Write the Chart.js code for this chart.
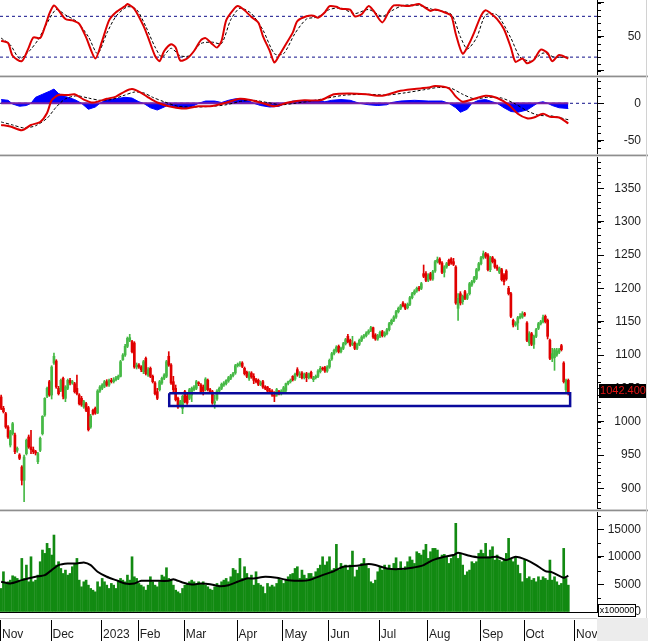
<!DOCTYPE html>
<html><head><meta charset="utf-8">
<script src="https://cdn.jsdelivr.net/npm/chart.js@4.4.0/dist/chart.umd.min.js"></script>
<style>
html,body{margin:0;padding:0;background:#fff;}
#wrap{position:relative;width:648px;height:641px;overflow:hidden;background:#fff;}
canvas.pane{position:absolute;left:0;}
.sep{position:absolute;left:0;width:648px;height:3px;background:linear-gradient(#cfcfcf 0,#cfcfcf 1px,#8e8e8e 1px,#8e8e8e 2px,#dedede 2px,#dedede 3px);}
.rb{position:absolute;left:646px;width:1px;background:#d2d2d2;}
</style></head><body>
<div id="wrap">
<canvas id="cStoch" class="pane" width="648" height="75" style="top:0;width:648px;height:75px"></canvas>
<div class="sep" style="top:75px"></div>
<canvas id="cMacd" class="pane" width="648" height="76" style="top:78px;width:648px;height:76px"></canvas>
<div class="sep" style="top:154px"></div>
<canvas id="cPrice" class="pane" width="648" height="352" style="top:157px;width:648px;height:352px"></canvas>
<div class="sep" style="top:509px"></div>
<canvas id="cVol" class="pane" width="648" height="129" style="top:512px;width:648px;height:129px"></canvas>
<div class="rb" style="top:0;height:618px"></div>
</div>
<script>
// ---------- DATA ----------
const monthTicks = [-0.5, 21.5, 43.5, 59.5, 79.5, 102.5, 122.5, 142.5, 164.5, 185.5, 208.5, 227.5, 249.5];
const monthLabels = ['Nov','Dec','2023','Feb','Mar','Apr','May','Jun','Jul','Aug','Sep','Oct','Nov'];

const opens = [1037,1020,1012,992,965,982,980,957,950,932,
912,952,977,962,958,955,940,957,982,1010,
1038,1060,1040,1088,1091,1050,1047,1065,1035,1050,
1062,1058,1057,1050,1040,1035,1022,1027,1021,992,
1017,1020,1013,1046,1050,1053,1060,1055,1062,1060,
1063,1065,1068,1093,1100,1113,1122,1120,1118,1082,
1085,1082,1075,1095,1070,1080,1068,1058,1045,1048,
1058,1065,1068,1098,1085,1060,1050,1035,1025,1020,
1045,1038,1035,1040,1048,1050,1058,1055,1052,1048,
1062,1048,1045,1028,1034,1046,1050,1055,1057,1061,
1065,1069,1073,1084,1086,1088,1080,1074,1065,1073,
1068,1063,1062,1056,1060,1052,1052,1046,1046,1040,
1040,1045,1042,1045,1047,1057,1060,1068,1064,1078,
1070,1073,1066,1072,1066,1074,1063,1066,1068,1075,
1080,1081,1076,1082,1094,1102,1106,1113,1105,1110,
1117,1128,1122,1116,1118,1110,1116,1122,1127,1129,
1133,1137,1141,1130,1124,1128,1135,1129,1132,1138,
1147,1152,1157,1165,1170,1178,1175,1171,1176,1186,
1192,1196,1200,1200,1222,1222,1212,1222,1214,1226,
1240,1244,1238,1224,1232,1242,1244,1240,1232,1170,
1192,1180,1195,1185,1192,1205,1210,1215,1228,1237,
1246,1252,1250,1228,1246,1242,1232,1224,1228,1220,
1226,1200,1192,1152,1145,1148,1156,1157,1162,1148,
1118,1132,1116,1128,1140,1147,1150,1158,1152,1122,
1095,1096,1100,1104,1114,1088,1048,1062];
const highs = [1040,1023,1014,994,987,999,983,962,952,934,
950,974,980,987,962,957,954,977,1009,1036,
1052,1062,1084,1103,1093,1053,1064,1067,1054,1064,
1065,1062,1059,1070,1042,1038,1032,1029,1023,1011,
1019,1022,1048,1054,1057,1062,1063,1064,1065,1066,
1068,1070,1092,1102,1116,1127,1131,1122,1120,1088,
1087,1084,1092,1097,1081,1082,1070,1060,1050,1062,
1067,1072,1092,1105,1087,1068,1055,1037,1032,1040,
1047,1041,1050,1052,1054,1062,1060,1057,1055,1066,
1064,1050,1047,1040,1048,1052,1058,1060,1063,1068,
1071,1074,1086,1088,1090,1090,1082,1076,1075,1075,
1072,1065,1064,1061,1062,1054,1053,1050,1048,1045,
1050,1047,1048,1053,1058,1061,1064,1069,1073,1081,
1075,1075,1073,1074,1073,1076,1068,1070,1078,1083,
1082,1083,1084,1094,1104,1109,1114,1115,1112,1119,
1125,1131,1124,1128,1120,1118,1124,1129,1131,1135,
1138,1143,1142,1132,1131,1136,1137,1135,1140,1149,
1154,1159,1167,1172,1176,1180,1177,1178,1188,1194,
1198,1202,1203,1209,1235,1225,1222,1224,1227,1242,
1247,1246,1240,1234,1239,1244,1246,1245,1234,1192,
1195,1190,1197,1192,1209,1212,1218,1230,1239,1248,
1256,1254,1252,1248,1248,1244,1235,1232,1230,1222,
1228,1203,1194,1154,1150,1158,1162,1165,1164,1150,
1135,1134,1130,1140,1149,1152,1160,1160,1154,1124,
1110,1110,1110,1110,1116,1090,1064,1064];
const lows = [1018,1013,990,975,962,980,952,954,943,905,
880,950,960,952,952,950,937,955,980,1008,
1036,1038,1034,1086,1050,1040,1045,1034,1030,1048,
1055,1056,1043,1040,1025,1023,1020,1015,986,990,
1010,1011,1012,1044,1048,1051,1053,1053,1058,1058,
1061,1063,1067,1092,1098,1111,1120,1103,1080,1079,
1080,1075,1072,1070,1068,1066,1058,1040,1033,1046,
1056,1063,1066,1083,1056,1045,1031,1020,1022,1012,
1028,1026,1033,1030,1046,1048,1054,1043,1040,1046,
1046,1042,1026,1020,1032,1044,1048,1053,1055,1059,
1063,1067,1071,1082,1083,1081,1070,1066,1062,1065,
1057,1058,1054,1054,1050,1048,1044,1043,1038,1030,
1038,1040,1040,1043,1045,1055,1058,1061,1062,1068,
1066,1064,1064,1060,1064,1065,1060,1064,1066,1073,
1077,1074,1074,1080,1092,1100,1104,1103,1103,1108,
1115,1118,1113,1114,1108,1108,1114,1120,1125,1127,
1131,1135,1125,1122,1122,1126,1127,1127,1130,1136,
1145,1150,1155,1163,1168,1172,1168,1169,1174,1184,
1190,1194,1196,1198,1216,1210,1210,1212,1212,1224,
1238,1236,1222,1217,1230,1234,1236,1234,1176,1152,
1175,1176,1183,1183,1190,1203,1208,1213,1226,1235,
1244,1245,1226,1225,1238,1230,1227,1222,1211,1205,
1212,1190,1156,1142,1143,1138,1154,1155,1158,1120,
1114,1114,1110,1126,1138,1145,1148,1148,1124,1093,
1090,1077,1098,1102,1106,1058,1044,1040];
const closes = [1020,1015,992,977,985,997,955,960,945,912,
947,972,962,958,955,953,952,975,1008,1035,
1050,1040,1082,1098,1052,1042,1062,1038,1052,1062,
1058,1060,1045,1042,1027,1025,1030,1017,988,1008,
1012,1013,1046,1052,1055,1060,1055,1062,1060,1063,
1066,1068,1090,1100,1113,1125,1126,1105,1082,1085,
1082,1078,1090,1072,1078,1068,1060,1042,1035,1060,
1065,1070,1090,1085,1058,1048,1033,1022,1030,1038,
1030,1028,1048,1050,1052,1060,1057,1045,1046,1064,
1048,1045,1028,1030,1046,1050,1056,1058,1062,1066,
1069,1072,1084,1086,1088,1083,1072,1068,1072,1067,
1062,1060,1056,1058,1052,1050,1046,1045,1040,1038,
1048,1042,1046,1051,1057,1060,1062,1063,1071,1070,
1071,1066,1071,1066,1072,1067,1066,1068,1076,1080,
1079,1076,1082,1092,1102,1107,1112,1105,1110,1117,
1123,1120,1115,1118,1110,1116,1122,1127,1129,1133,
1136,1141,1127,1124,1129,1134,1129,1133,1138,1147,
1152,1157,1165,1170,1174,1174,1170,1176,1186,1192,
1196,1200,1199,1207,1218,1212,1220,1214,1225,1240,
1243,1238,1224,1232,1237,1236,1238,1236,1178,1185,
1178,1188,1185,1190,1207,1210,1216,1228,1237,1246,
1252,1248,1228,1246,1240,1232,1230,1230,1213,1210,
1214,1192,1158,1145,1148,1156,1158,1162,1160,1122,
1132,1116,1128,1138,1147,1150,1156,1150,1128,1095,
1102,1108,1106,1108,1108,1060,1062,1042.4];

const volumes = [4270,7300,5180,5480,5780,6570,6390,6090,5780,9720,
6090,8510,5480,10020,5480,5780,6690,9120,11240,10630,
12450,11540,10330,13960,8510,9120,7900,6990,7600,6690,
6990,8210,8810,9720,5780,4570,5480,5780,4870,4270,
3960,3660,5480,4570,6090,5480,4870,4270,5180,4870,
4270,5480,6090,5780,5480,6690,5780,10020,6390,6090,
5180,4870,4570,3960,4870,6390,5480,4870,4570,5480,
6690,6390,8030,6090,5780,4870,3960,3660,3360,4270,
4870,5180,5480,5780,5480,4870,5480,5180,5480,4870,
4570,4150,3960,4570,5180,4870,5480,5780,6090,5480,
6390,7900,7600,6990,9720,6090,8210,6990,6090,6690,
4870,7300,5180,4870,4570,3360,5180,4570,4870,4570,
5180,6090,5780,5180,5780,6390,6810,6990,
7900,8210,6090,7600,6690,6090,6990,6990,6390,7300,
7900,8510,10020,8510,9120,10020,7600,7900,12270,7600,
8810,8210,8510,7600,8510,11050,6390,7600,8210,8810,
9720,8510,7900,5480,5180,5780,7300,8210,7600,8510,
7900,8510,7600,8810,9840,7900,9120,7600,8210,9120,
10020,9420,8810,10930,10630,10330,11240,12270,9720,10930,
11540,11540,11240,9720,10330,10450,10020,8810,9720,10330,
16090,9720,10450,8510,6690,7300,7600,9120,8810,9120,
10630,11240,10630,12450,10020,11240,11840,9420,10330,9420,
9120,9420,10630,13360,9720,9120,10020,8510,6990,5480,
9420,6090,6390,5780,6090,5480,6390,5780,6390,6090,
5780,9420,5780,6390,5480,4870,5180,11540,6090,4870];

const volMA = [[0,5480],[4,5170],[9,5780],[15,6390],[19,6690],[22,7600],[25,8510],[29,8810],[33,8810],[36,8990],[39,8510],[42,7300],[46,6390],[50,5780],[54,5170],[58,5170],[61,5660],[67,5660],[73,5660],[75,5960],[79,5360],[83,5000],[87,5170],[91,5050],[95,4690],[99,4870],[103,5480],[107,6090],[110,6090],[115,6390],[120,6210],[125,5780],[131,5660],[134,5780],[140,6690],[145,7420],[149,8210],[155,8390],[160,8690],[163,8510],[168,7900],[173,7780],[179,8030],[184,8510],[188,9420],[193,10030],[197,10330],[199,10750],[204,10200],[208,9900],[213,9900],[216,10030],[220,9420],[224,10030],[229,9420],[233,8510],[237,7420],[240,7180],[245,6210],[247,6570]];

const stochK = [[0,44],[3,41],[5,22],[9,14],[12,34],[14,49],[17,48],[19,64],[21,84],[23,96],[25,89],[28,76],[31,74],[34,69],[37,49],[41,18],[44,44],[47,74],[50,86],[54,95],[55,98],[58,91],[62,66],[64,49],[67,22],[69,14],[71,29],[74,39],[76,34],[78,15],[81,18],[84,29],[87,45],[89,48],[92,39],[94,34],[96,44],[98,74],[101,89],[103,95],[106,89],[109,79],[112,71],[114,51],[117,29],[119,12],[121,22],[124,39],[127,56],[129,73],[133,80],[136,81],[138,78],[141,86],[143,95],[146,94],[148,91],[152,90],[154,80],[157,83],[160,95],[162,89],[166,71],[169,88],[171,96],[174,96],[177,95],[179,96],[182,98],[187,88],[189,90],[193,86],[196,81],[198,54],[201,25],[204,41],[206,56],[209,81],[211,89],[213,85],[216,76],[219,61],[222,34],[224,13],[227,18],[229,11],[232,16],[235,31],[238,26],[240,14],[243,23],[247,18]];
const stochD = [[0,48],[4,38],[8,18],[12,28],[16,45],[20,70],[24,90],[28,82],[33,72],[38,50],[42,25],[46,55],[50,80],[55,94],[59,90],[63,65],[67,35],[70,20],[74,33],[78,22],[82,22],[87,40],[92,42],[96,40],[100,75],[104,92],[109,84],[114,60],[119,25],[123,25],[128,55],[133,76],[138,79],[143,90],[148,92],[154,84],[160,90],[166,80],[170,88],[175,96],[182,96],[188,90],[196,83],[200,50],[203,32],[207,48],[211,82],[216,82],[222,48],[226,20],[231,14],[236,26],[241,20],[247,20]];
const stochLevels = [80, 20];

const macdLine = [[0,-29],[4,-31],[9,-36],[13,-29],[17,-25],[20,-13],[22,4],[25,11],[29,11],[32,12],[36,5],[40,1],[46,6],[50,9],[54,16],[57,19],[61,14],[64,8],[68,1],[73,-4],[80,-7],[86,-4],[91,-4],[96,-1],[104,6],[109,4],[114,0],[119,-4],[125,1],[132,4],[139,4],[145,12],[152,13],[159,12],[166,10],[173,16],[180,19],[186,21],[189,23],[195,20],[198,9],[201,2],[205,5],[211,10],[216,7],[221,-2],[225,-14],[229,-20],[232,-19],[236,-14],[239,-18],[243,-19],[247,-27]];
const macdSignal = [[0,-25],[5,-29],[10,-33],[15,-30],[20,-20],[24,-5],[28,6],[33,10],[38,7],[43,4],[48,5],[53,10],[58,15],[62,14],[66,8],[71,2],[77,-4],[85,-5],[92,-4],[98,-2],[105,3],[110,4],[116,1],[122,-2],[128,0],[135,3],[142,7],[150,11],[160,12],[168,11],[176,14],[184,18],[190,21],[196,20],[201,12],[206,6],[212,8],[218,7],[224,-1],[229,-10],[234,-16],[240,-17],[247,-22]];
const macdHist = [[0,5],[3,4],[5,-1],[8,-4],[11,-3],[13,0],[15,8],[18,12],[21,16],[23,19],[25,13],[28,9],[32,5],[35,0],[38,-8],[41,-5],[43,0],[46,5],[50,6],[54,8],[57,7],[60,2],[62,0],[65,-6],[68,-9],[71,-5],[73,-2],[76,-6],[80,-7],[84,-3],[86,0],[89,3],[93,3],[96,1],[99,4],[102,6],[105,6],[108,3],[110,0],[113,-3],[117,-5],[121,-4],[124,0],[127,3],[132,3],[137,4],[141,2],[144,4],[148,5],[152,4],[156,0],[160,-2],[164,-3],[168,-2],[170,1],[174,3],[180,4],[186,3],[192,3],[195,0],[198,-6],[200,-12],[203,-8],[205,0],[208,4],[211,5],[214,2],[216,0],[219,-6],[222,-11],[225,-12],[229,-9],[232,-3],[234,1],[236,2],[238,0],[240,-3],[243,-6],[247,-7]];

const supportBox = {x0: 73.2, x1: 247.8, low: 1023.5, high: 1042.6};

// ---------- HELPERS ----------
Chart.defaults.font.family = "'Liberation Sans', Arial, sans-serif";
Chart.defaults.font.size = 12;
Chart.defaults.color = '#1e1e1e';
const UP = '#46b946', DOWN = '#e00000';
const XMIN = -0.5, XMAX = 259.5;
const idx = closes.map((_, i) => i);
const pts = arr => arr.map(p => ({x: p[0], y: p[1]}));

function yAxis(min, max, majors, labelFn) {
  return {
    type: 'linear', position: 'right', min, max, bounds: 'data',
    afterBuildTicks: s => { s.ticks = majors.map(v => ({value: v})); },
    afterFit: s => { s.width = 44; s.paddingTop = 0; s.paddingBottom = 0; },
    grid: {drawOnChartArea: false, tickLength: 7, color: '#000', lineWidth: 1},
    border: {display: true, color: '#000', width: 1},
    ticks: {callback: labelFn, crossAlign: 'far', autoSkip: false, color: '#1e1e1e', font: {size: 12}}
  };
}
const hiddenX = {type: 'linear', min: XMIN, max: XMAX, display: false, bounds: 'data', offset: false, grid: {offset: false}};

const minorTicks = {
  id: 'minorTicks',
  afterDraw(chart, args, opts) {
    const s = chart.scales.y, ctx = chart.ctx;
    if (!opts || !opts.step) return;
    ctx.save(); ctx.strokeStyle = '#000'; ctx.lineWidth = 1;
    const n0 = Math.ceil(s.min / opts.step), n1 = Math.floor(s.max / opts.step);
    for (let n = n0; n <= n1; n++) {
      const y = Math.round(s.getPixelForValue(n * opts.step)) + 0.5;
      ctx.beginPath(); ctx.moveTo(s.left, y); ctx.lineTo(s.left + 4, y); ctx.stroke();
    }
    ctx.restore();
  }
};
const baseOpts = (scales, minorStep) => ({
  responsive: false, animation: false, devicePixelRatio: 1, events: [],
  layout: {padding: {left: 0, right: 7, top: 0, bottom: 0}},
  plugins: {legend: {display: false}, tooltip: {enabled: false}, minorTicks: {step: minorStep}},
  scales
});
const lineDs = (data, color, width, dash, order, extra) => Object.assign({
  type: 'line', data, borderColor: color, borderWidth: width, borderDash: dash || [],
  pointRadius: 0, tension: 0.25, fill: false, order
}, extra || {});

// ---------- STOCHASTIC ----------
new Chart(document.getElementById('cStoch'), {
  type: 'line',
  data: {datasets: [
    lineDs([{x: XMIN, y: stochLevels[0]}, {x: XMAX, y: stochLevels[0]}], '#10108a', 1, [3, 3], 5, {tension: 0}),
    lineDs([{x: XMIN, y: stochLevels[1]}, {x: XMAX, y: stochLevels[1]}], '#10108a', 1, [3, 3], 5, {tension: 0}),
    lineDs(pts(stochD), '#000', 1, [3, 2], 3),
    lineDs(pts(stochK), '#dd0000', 2, [], 1)
  ]},
  options: baseOpts({x: hiddenX, y: yAxis(-6.3, 104, [0, 50, 100], v => v === 50 ? '50' : '')}, 10),
  plugins: [minorTicks]
});

// ---------- MACD ----------
new Chart(document.getElementById('cMacd'), {
  type: 'line',
  data: {datasets: [
    lineDs(pts(macdHist), '#0000ff', 1, [], 6, {fill: 'origin', backgroundColor: '#0000ff', tension: 0}),
    lineDs([{x: XMIN, y: 0}, {x: XMAX, y: 0}], '#10108a', 1, [3, 3], 5, {tension: 0}),
    lineDs([{x: 0, y: 0}, {x: closes.length - 1, y: 0}], '#7a20a8', 2, [], 4, {tension: 0}),
    lineDs(pts(macdSignal), '#000', 1, [3, 2], 3),
    lineDs(pts(macdLine), '#dd0000', 2, [], 1)
  ]},
  options: baseOpts({x: hiddenX, y: yAxis(-67.8, 33.8, [-50, 0], v => String(v))}, 10),
  plugins: [minorTicks]
});

// ---------- PRICE ----------
const lastPrice = {
  id: 'lastPrice',
  afterDraw(chart) {
    const ys = chart.scales.y, ctx = chart.ctx;
    const v = closes[closes.length - 1];
    const y = Math.round(ys.getPixelForValue(v));
    ctx.save();
    ctx.fillStyle = '#000'; ctx.fillRect(599, y - 9, 48, 14);
    ctx.fillStyle = '#e41414'; ctx.font = "11px 'Liberation Sans', Arial, sans-serif";
    ctx.textAlign = 'center'; ctx.textBaseline = 'middle';
    ctx.fillText(v.toFixed(3), 623, y - 2);
    ctx.restore();
  }
};
const candleColor = ctx => (ctx.dataIndex !== undefined && closes[ctx.dataIndex] < opens[ctx.dataIndex]) ? DOWN : UP;
const priceMajors = [900, 950, 1000, 1050, 1100, 1150, 1200, 1250, 1300, 1350];
new Chart(document.getElementById('cPrice'), {
  type: 'bar',
  data: {datasets: [
    {type: 'bar', data: idx.map(i => ({x: i, y: [lows[i], highs[i]]})), backgroundColor: candleColor,
     barThickness: 1, grouped: false, order: 3, borderWidth: 0},
    {type: 'bar', data: idx.map(i => ({x: i, y: [opens[i], closes[i]]})), backgroundColor: candleColor,
     barThickness: 2, grouped: false, order: 2, borderWidth: 0, minBarLength: 1},
    lineDs([{x: supportBox.x0, y: supportBox.high}, {x: supportBox.x1, y: supportBox.high},
            {x: supportBox.x1, y: supportBox.low}, {x: supportBox.x0, y: supportBox.low},
            {x: supportBox.x0, y: supportBox.high}], '#0a0a9c', 2.5, [], 0, {tension: 0})
  ]},
  options: baseOpts({x: hiddenX, y: yAxis(869, 1397, priceMajors, v => String(v))}, 10),
  plugins: [minorTicks, lastPrice]
});

// ---------- VOLUME ----------
const xAxisDeco = {
  id: 'xAxisDeco',
  afterDraw(chart) {
    const ctx = chart.ctx, xs = chart.scales.x;
    ctx.save();
    ctx.fillStyle = '#ececec'; ctx.fillRect(597, 106, 51, 23);
    ctx.fillStyle = '#c8c8c8'; ctx.fillRect(0, 106, 597, 1);
    ctx.strokeStyle = '#000'; ctx.lineWidth = 1;
    monthTicks.forEach(v => {
      const x = Math.round(xs.getPixelForValue(v)) + 0.5;
      ctx.beginPath(); ctx.moveTo(x, 108); ctx.lineTo(x, 129); ctx.stroke();
    });
    ctx.fillStyle = '#fff'; ctx.fillRect(598, 92, 38, 13);
    ctx.strokeStyle = '#000'; ctx.strokeRect(598.5, 92.5, 37, 12);
    ctx.fillStyle = '#000'; ctx.font = "9px 'Liberation Sans', Arial, sans-serif";
    ctx.textAlign = 'center'; ctx.textBaseline = 'middle';
    ctx.fillText('x100000', 617, 99);
    ctx.restore();
  }
};
new Chart(document.getElementById('cVol'), {
  type: 'bar',
  data: {datasets: [
    {type: 'bar', data: idx.map(i => ({x: i, y: volumes[i]})), backgroundColor: '#128a12',
     barThickness: 2, grouped: false, order: 2, borderWidth: 0},
    lineDs(pts(volMA), '#000', 2, [], 1, {tension: 0.2})
  ]},
  options: baseOpts({
    x: {type: 'linear', min: XMIN, max: XMAX, position: 'bottom', bounds: 'data', offset: false,
        afterBuildTicks: s => { s.ticks = monthTicks.map(v => ({value: v})); },
        afterFit: s => { s.height = 29; s.paddingLeft = 0; s.paddingRight = 0; },
        grid: {display: false, drawTicks: false, offset: false},
        border: {display: true, color: '#000', width: 1},
        ticks: {callback: (v, i) => monthLabels[i], align: 'start', labelOffset: 2, padding: 15,
                maxRotation: 0, minRotation: 0, autoSkip: false, color: '#1e1e1e', font: {size: 12}}},
    y: yAxis(0, 18140, [0, 5000, 10000, 15000], v => String(v))
  }, 2500),
  plugins: [minorTicks, xAxisDeco]
});
</script>
</body></html>
